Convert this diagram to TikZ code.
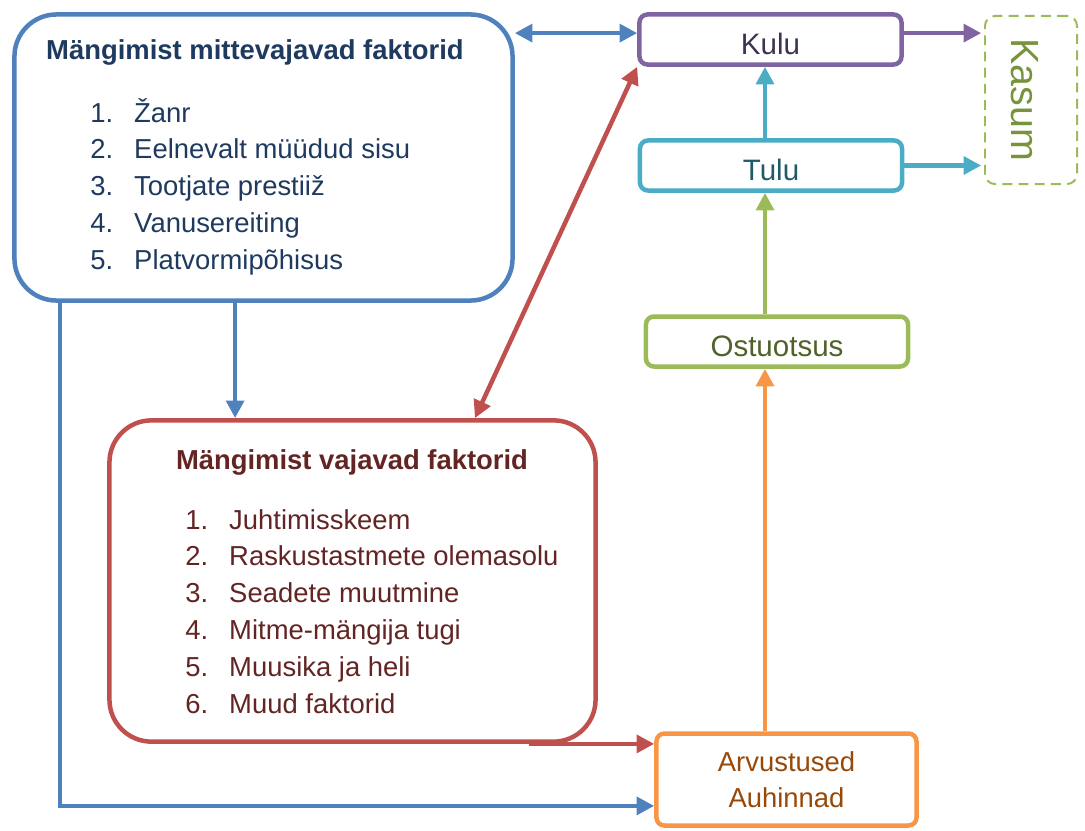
\documentclass[tikz,border=0pt]{standalone}
\usepackage{fontspec}
\setmainfont{Liberation Sans}
\usetikzlibrary{positioning, arrows.meta}

\definecolor{blueline}{HTML}{4F81BD}
\definecolor{bluetext}{HTML}{1F3A5F}
\definecolor{redline}{HTML}{C0504D}
\definecolor{redtext}{HTML}{632523}
\definecolor{purpleline}{HTML}{8064A2}
\definecolor{purpletext}{HTML}{3F3151}
\definecolor{cyanline}{HTML}{4BACC6}
\definecolor{cyantext}{HTML}{215967}
\definecolor{greenline}{HTML}{9BBB59}
\definecolor{greentext}{HTML}{4F6228}
\definecolor{orangeline}{HTML}{F79646}
\definecolor{orangetext}{HTML}{984807}
\definecolor{kasumtext}{HTML}{77933C}

\begin{document}
\begin{tikzpicture}[
    x=0.025cm, y=-0.025cm,
    box/.style={draw, line width=3.2pt, rounded corners=0.2cm, fill=white,
        font=\fontsize{21}{25.5}\selectfont, minimum width=6.55cm, minimum height=1.25cm, inner sep=0pt},
    oneline/.style={text height=22pt, text depth=0pt},
    bigbox/.style={draw, line width=3.2pt, rounded corners=1.05cm, fill=white, inner sep=0pt},
    title/.style={anchor=base, inner sep=0pt, font=\bfseries\fontsize{19.5}{26}\selectfont},
    items/.style={anchor=base west, inner sep=0pt, font=\fontsize{19.5}{26.2}\selectfont},
    line/.style={-{Triangle[length=12.5pt, width=12.5pt]}, line width=3.2pt},
    dline/.style={{Triangle[length=12.5pt, width=12.5pt]}-{Triangle[length=12.5pt, width=12.5pt]}, line width=3.2pt}
]
    \useasboundingbox (0,0) rectangle (1085,830);

    % the two factor groups
    \node[bigbox, draw=blueline, minimum width=12.45cm, minimum height=7.15cm] (notreq) at (263.5,157.5) {};
    \node[title, text=bluetext] (notreqtitle) at (255,59) {Mängimist mittevajavad faktorid};
    \node[items, text=bluetext] (notreqlist) at (90,122) {\begin{tabular}[t]{@{}l@{\hspace{15pt}}l@{}}
        1. & Žanr\\
        2. & Eelnevalt müüdud sisu\\
        3. & Tootjate prestiiž\\
        4. & Vanusereiting\\
        5. & Platvormipõhisus
    \end{tabular}};

    \node[bigbox, draw=redline, minimum width=12.15cm, minimum height=8.03cm] (req) at (352.5,581) {};
    \node[title, text=redtext] (reqtitle) at (352,469) {Mängimist vajavad faktorid};
    \node[items, text=redtext] (reqlist) at (185,529) {\begin{tabular}[t]{@{}l@{\hspace{15pt}}l@{}}
        1. & Juhtimisskeem\\
        2. & Raskustastmete olemasolu\\
        3. & Seadete muutmine\\
        4. & Mitme-mängija tugi\\
        5. & Muusika ja heli\\
        6. & Muud faktorid
    \end{tabular}};

    % right column
    \node[box, oneline, draw=purpleline, text=purpletext] (kulu) at (770.5,39.5) {Kulu};
    \node[box, oneline, draw=cyanline, text=cyantext] (tulu) at (771,165.5) {Tulu};
    \node[box, oneline, draw=greenline, text=greentext] (ostuotsus) at (777,341.5) {Ostuotsus};
    \node[box, align=center, draw=orangeline, text=orangetext, font=\fontsize{19.5}{25.5}\selectfont,
        minimum width=6.5cm, minimum height=2.3cm] (arvustused) at (786.5,779.5) {Arvustused\\Auhinnad};
    \node[draw=greenline, dashed, dash pattern=on 7pt off 4.5pt, line width=1.4pt, rounded corners=0.25cm,
        minimum width=2.3cm, minimum height=4.2cm, inner sep=0pt] (kasum) at (1031,100) {};
    \node[rotate=-90, text=kasumtext, font=\fontsize{28}{32}\selectfont] (kasumtext) at (1025,100) {Kasum};

    \coordinate (spine) at (765,0);
    \coordinate (kw) at ([yshift=0.16cm]kulu.west);
    \coordinate (ke) at ([yshift=0.16cm]kulu.east);
    \coordinate (ns) at ([xshift=-0.71cm]notreq.south);
    \coordinate (nw) at ([xshift=1.2cm]notreq.south west);
    \coordinate (aw) at ([yshift=-0.66cm]arvustused.west);
    \coordinate (rs) at ([xshift=4.4cm]req.south);

    \draw[dline, color=blueline] (kw) -- (kw -| notreq.east);
    \draw[line, color=purpleline, shorten >=2pt] (ke) -- (ke -| kasum.west);
    \draw[line, color=cyanline, shorten >=2pt] (tulu.east) -- (tulu.east -| kasum.west);
    \draw[line, color=cyanline] (tulu.north -| spine) -- (kulu.south -| spine);
    \draw[line, color=greenline] (ostuotsus.north -| spine) -- (tulu.south -| spine);
    \draw[line, color=orangeline] (arvustused.north -| spine) -- (ostuotsus.south -| spine);
    \draw[dline, color=redline] ([xshift=3.06cm]req.north) -- (kulu.south west);
    \draw[line, color=blueline] (ns) -- (ns |- req.north);
    \draw[line, color=blueline] (nw) |- (aw);
    \draw[line, color=redline] (rs) -- (rs -| arvustused.west);
\end{tikzpicture}
\end{document}
